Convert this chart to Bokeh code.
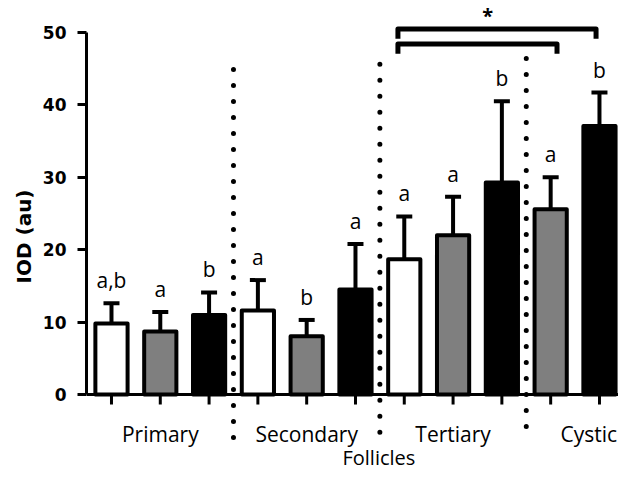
from bokeh.plotting import figure
from bokeh.models import Range1d, FixedTicker, Span, Whisker, TeeHead, ColumnDataSource, Title
from bokeh.core.properties import value
from bokeh.embed import file_html
from bokeh.resources import INLINE

# ---- data ----
groups = ["Primary", "Secondary", "Tertiary", "Cystic"]
bar_group = ["Primary", "Primary", "Primary",
             "Secondary", "Secondary", "Secondary",
             "Tertiary", "Tertiary", "Tertiary",
             "Cystic", "Cystic"]
treatment = ["white", "gray", "black",
             "white", "gray", "black",
             "white", "gray", "black",
             "gray", "black"]
means = [9.8, 8.7, 11.0, 11.6, 8.05, 14.5, 18.7, 22.0, 29.3, 25.6, 37.1]
upper = [12.6, 11.4, 14.1, 15.8, 10.3, 20.8, 24.6, 27.3, 40.5, 30.0, 41.7]
letters = ["a,b", "a", "b", "a", "b", "a", "a", "a", "b", "a", "b"]
y_ticks = [0, 10, 20, 30, 40, 50]

# ---- layout constants ----
PX = 7.24   # pixels per y unit
fill_map = {"white": "#ffffff", "gray": "#7f7f7f", "black": "#000000"}
bar_x = list(range(len(means)))
label_y = [u + 23 / PX for u in upper]

src = ColumnDataSource(dict(
    x=bar_x, mean=means, upper=upper, letter=letters, label_y=label_y,
    color=[fill_map[t] for t in treatment],
))

p = figure(width=618, height=472,
           x_range=Range1d(-0.512, 10.39), y_range=Range1d(-10.77, 54.42),
           output_backend="svg", toolbar_location=None, x_axis_location=None,
           min_border_left=86, min_border_right=0, min_border_top=0, min_border_bottom=0)
p.outline_line_color = None
p.grid.visible = False
p.background_fill_color = "white"

# y axis
ya = p.yaxis[0]
ya.bounds = (0, 50)
ya.ticker = FixedTicker(ticks=y_ticks)
ya.major_label_text_font = "DejaVu Sans"
ya.major_label_text_font_style = "bold"
ya.major_label_text_font_size = "17px"
ya.major_label_text_color = "black"
ya.major_label_standoff = 11
ya.axis_line_width = 3
ya.axis_line_color = "black"
ya.major_tick_line_width = 3
ya.major_tick_line_color = "black"
ya.major_tick_out = 9
ya.major_tick_in = 0
ya.minor_tick_line_color = None

# y axis title (side title, centred on the 0-50 span)
p.add_layout(Title(text="IOD (au)", align="center", offset=23,
                   text_font="DejaVu Sans", text_font_style="bold",
                   text_font_size="20px", text_color="black", standoff=8), "left")

# dotted dividers between groups
div_x = [2.5, 5.5, 8.5]
div_top = [44.9, 45.6, 46.4]
div_bot = [-6.8, -6.1, -5.4]
p.multi_line(xs=[[x, x] for x in div_x],
             ys=[[t, b] for t, b in zip(div_top, div_bot)],
             line_color="black", line_width=5, line_dash="0 16", line_cap="round")

# x axis line and ticks
p.add_layout(Span(location=0, dimension="width", line_color="black", line_width=3))
p.segment(x0=bar_x, y0=[0] * len(bar_x), x1=bar_x, y1=[-10 / PX] * len(bar_x),
          line_color="black", line_width=3)

# error bars (upper only)
p.add_layout(Whisker(base="x", lower="mean", upper="upper", source=src,
                     line_color="black", line_width=4,
                     upper_head=TeeHead(size=16, line_width=4, line_color="black"),
                     lower_head=None))

# bars
p.vbar(x="x", top="mean", bottom=0, width=0.66, source=src,
       fill_color="color", line_color="black", line_width=4, line_join="round")

# significance letters
p.text(x="x", y="label_y", text="letter", source=src,
       text_align="center", text_baseline="alphabetic",
       text_font=value("Open Sans"), text_font_size="21px", text_color="black")

# category labels and x title
cat_x = [1, 4, 7, 9.78]
p.text(x=cat_x, y=[-39 / PX] * 4, text=groups,
       text_align="center", text_baseline="alphabetic",
       text_font=value("Open Sans"), text_font_size="21px", text_color="black")
p.text(x=[5.48], y=[-63 / PX], text=["Follicles"],
       text_align="center", text_baseline="alphabetic",
       text_font=value("Open Sans"), text_font_size="20px", text_color="black")

# significance brackets
br_left = 5.87
br_right = [9.93, 9.13]
br_top = [50.5, 48.4]
br_drop = 1.35
p.multi_line(xs=[[br_left, br_left, r, r] for r in br_right],
             ys=[[t - br_drop, t, t, t - br_drop] for t in br_top],
             line_color="black", line_width=5, line_join="round")
p.text(x=[7.71], y=[51.5 + 6 / PX], text=["*"], text_align="center", text_baseline="alphabetic",
       text_font=value("Open Sans"), text_font_style="bold", text_font_size="20px",
       text_color="black")

open("out.html", "w").write(file_html(p, INLINE))
